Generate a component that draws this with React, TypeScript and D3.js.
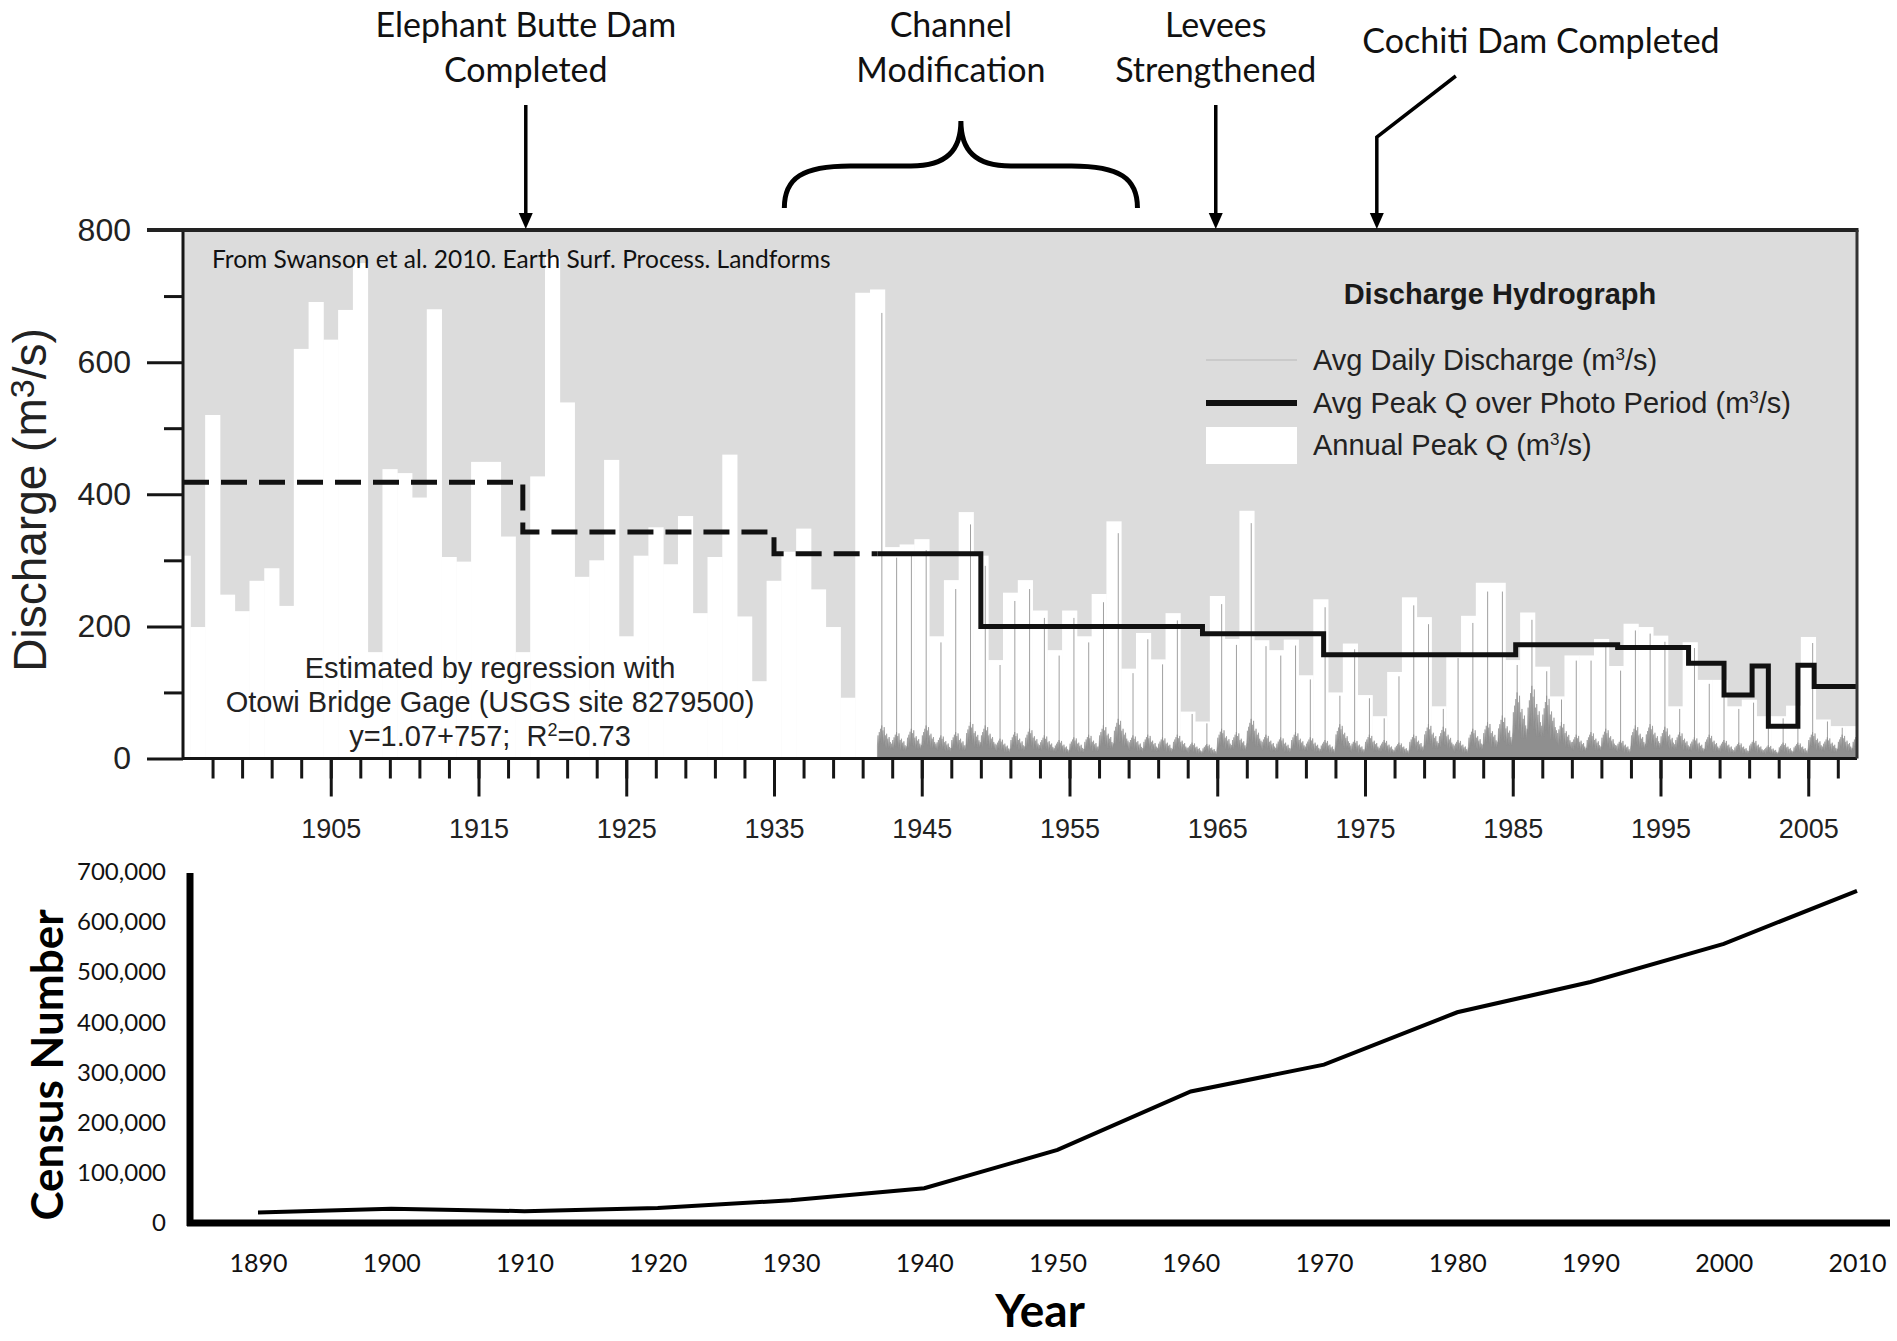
import React, { useEffect, useRef } from 'react';
import * as d3 from 'd3';

// ---- Discharge hydrograph data (m3/s) ----
// annual peak Q, one value per year starting 1895
const peakFirstYear = 1895;
const annualPeakQ = [
  307, 199, 520, 248, 223, 269, 288, 231, 620, 691, // 1895-1904
  634, 679, 750, 161, 438, 432, 395, 680, 305, 298, // 1905-1914
  449, 449, 336, 161, 427, 760, 539, 275, 300, 452, // 1915-1924
  185, 307, 350, 294, 367, 220, 305, 460, 215, 117, // 1925-1934
  269, 313, 348, 256, 199, 92, 705, 710, 320, 324,  // 1935-1944
  332, 185, 270, 373, 307, 149, 251, 270, 224, 164, // 1945-1954
  224, 185, 249, 359, 136, 190, 150, 220, 71, 56,   // 1955-1964
  246, 181, 375, 179, 164, 180, 126, 241, 100, 174, // 1965-1974
  96, 64, 131, 244, 214, 79, 160, 216, 266, 266,    // 1975-1984
  149, 221, 139, 94, 156, 156, 181, 140, 204, 199,  // 1985-1994
  186, 79, 176, 119, 119, 79, 89, 64, 64, 80,       // 1995-2004
  184, 59, 49, 49,                                   // 2005-2008
];

// avg daily discharge: typical height of the runoff band each year, gage record from 1942
const dailyFirstYear = 1942;
const dailyBandQ = [
  50, 40, 45, 50, 35, 40, 55, 50,
  30, 40, 45, 35, 28, 32, 36, 50, 60, 35,
  36, 32, 36, 24, 22, 45, 40, 60, 36, 32,
  40, 32, 28, 52, 28, 36, 28, 24, 36, 52,
  48, 28, 45, 55, 65, 100, 110, 95, 55, 36,
  40, 45, 28, 50, 52, 48, 40, 32, 36, 28,
  24, 28, 20, 24, 24, 40, 32, 36, 36,
];
// jagged within-year outline of daily flows, as fractions of the band height
const dailyShape = [
  0.4, 0.7, 0.35, 0.8, 0.5, 0.9, 0.45, 1, 0.6, 0.85, 0.4, 0.95,
  0.5, 0.7, 0.3, 0.75, 0.45, 0.6, 0.3, 0.65, 0.35, 0.5, 0.3, 0.45,
];

// avg peak Q over each photo period
const photoPeriodStart = [1895, 1918, 1935, 1949, 1964, 1972.2, 1985.2, 1992.1, 1996.9, 1999.3, 2001.2, 2002.3, 2004.3, 2005.4];
const photoPeriodQ = [418, 343, 310, 200, 189, 157, 172, 168, 144, 96, 140, 49, 141, 109];
const recordEnd = 2008.3;

const events = [
  { label: ['Elephant Butte Dam', 'Completed'], year: 1918.2 },
  { label: ['Levees', 'Strengthened'], year: 1964.9 },
];
const cochiti = { label: 'Cochiti Dam Completed', year: 1975.8 };
const channelMod = { label: ['Channel', 'Modification'], from: 1935.7, to: 1959.6 };

// ---- Census data ----
const censusYears = [1890, 1900, 1910, 1920, 1930, 1940, 1950, 1960, 1970, 1980, 1990, 2000, 2010];
const censusPop = [20913, 28630, 23606, 29855, 45430, 69391, 145673, 262199, 315774, 420262, 480577, 556678, 662564];

const W = 1897;
const H = 1341;
const ARIAL = '"Liberation Sans", Arial, sans-serif';
const CALIBRI = 'Lato, "Open Sans", sans-serif';

type Sel = d3.Selection<any, any, any, any>;

// text with raised parts: [text, isSuper]
function richText(t: Sel, parts: [string, boolean][], supSize: number, shift: number) {
  parts.forEach(([s, sup], i) => {
    const ts = t.append('tspan').text(s);
    if (sup) ts.attr('dy', -shift).attr('font-size', supSize);
    else if (i > 0 && parts[i - 1][1]) ts.attr('dy', shift);
  });
}

function drawHydrograph(svg: Sel) {
  const plot = { left: 183, right: 1857, top: 230, bottom: 758.5 };
  const x = d3.scaleLinear().domain([peakFirstYear, recordEnd]).range([plot.left, plot.right]);
  const y = d3.scaleLinear().domain([0, 800]).range([plot.bottom, plot.top]);
  const yearW = x(1) - x(0);

  svg.append('defs').append('clipPath').attr('id', 'plotClip')
    .append('rect')
    .attr('x', plot.left).attr('y', plot.top)
    .attr('width', plot.right - plot.left).attr('height', plot.bottom - plot.top);

  svg.append('rect')
    .attr('x', plot.left).attr('y', plot.top)
    .attr('width', plot.right - plot.left).attr('height', plot.bottom - plot.top)
    .attr('fill', '#dcdcdc');

  const g = svg.append('g').attr('clip-path', 'url(#plotClip)');

  // annual peak bars
  g.selectAll('rect.peak')
    .data(annualPeakQ)
    .join('rect')
    .attr('class', 'peak')
    .attr('x', (d, i) => x(peakFirstYear + i - 0.5))
    .attr('width', yearW + 0.4)
    .attr('y', d => y(d))
    .attr('height', d => y(0) - y(d))
    .attr('fill', '#ffffff');

  // daily spikes up toward the peak of each year
  g.selectAll('line.spike')
    .data(dailyBandQ)
    .join('line')
    .attr('class', 'spike')
    .attr('x1', (d, i) => x(dailyFirstYear + i + 0.3))
    .attr('x2', (d, i) => x(dailyFirstYear + i + 0.3))
    .attr('y1', y(0))
    .attr('y2', (d, i) => y(annualPeakQ[dailyFirstYear - peakFirstYear + i] * 0.95))
    .attr('stroke', '#a0a0a0')
    .attr('stroke-width', 1);

  // avg daily discharge band
  const n = dailyShape.length;
  const dailyPts = dailyBandQ.flatMap((q, i) =>
    dailyShape.map((k, j) => [dailyFirstYear + i + j / n, q * k] as [number, number])
  );
  dailyPts.push([dailyFirstYear + dailyBandQ.length, dailyBandQ[dailyBandQ.length - 1] * dailyShape[0]]);
  g.append('path')
    .datum(dailyPts)
    .attr('fill', '#8f8f8f')
    .attr('stroke', '#8f8f8f')
    .attr('stroke-width', 0.6)
    .attr('d', d3.area<[number, number]>().x(p => x(p[0])).y0(y(0)).y1(p => y(p[1])));

  // avg peak Q over photo period (estimated part dashed)
  const steps = photoPeriodStart.map((s, i) => [s, photoPeriodQ[i]] as [number, number]);
  const before = steps.filter(p => p[0] < dailyFirstYear);
  const valueAtGage = before[before.length - 1][1];
  const dashedPts = [...before, [dailyFirstYear, valueAtGage] as [number, number]];
  const solidPts = [
    [dailyFirstYear, valueAtGage] as [number, number],
    ...steps.filter(p => p[0] >= dailyFirstYear),
    [recordEnd, photoPeriodQ[photoPeriodQ.length - 1]] as [number, number],
  ];
  const stepLine = d3.line<[number, number]>().x(p => x(p[0])).y(p => y(p[1])).curve(d3.curveStepAfter);
  g.append('path').datum(dashedPts)
    .attr('fill', 'none').attr('stroke', '#111').attr('stroke-width', 5)
    .attr('stroke-dasharray', '26,12')
    .attr('d', stepLine);
  g.append('path').datum(solidPts)
    .attr('fill', 'none').attr('stroke', '#111').attr('stroke-width', 5)
    .attr('d', stepLine);

  // source note
  svg.append('text')
    .attr('x', 212).attr('y', 268)
    .attr('font-family', CALIBRI).attr('font-size', 24.5).attr('fill', '#111')
    .text('From Swanson et al. 2010. Earth Surf. Process. Landforms');

  // regression note
  const reg = svg.append('g').attr('font-family', ARIAL).attr('font-size', 29).attr('fill', '#222')
    .attr('text-anchor', 'middle');
  reg.append('text').attr('x', 490).attr('y', 678).text('Estimated by regression with');
  reg.append('text').attr('x', 490).attr('y', 712).text('Otowi Bridge Gage (USGS site 8279500)');
  richText(reg.append('text').attr('x', 490).attr('y', 746),
    [['y=1.07+757;\u00a0\u00a0R', false], ['2', true], ['=0.73', false]], 18, 10);

  // legend
  const lg = svg.append('g').attr('font-family', ARIAL).attr('fill', '#222');
  lg.append('text').attr('x', 1500).attr('y', 304).attr('text-anchor', 'middle')
    .attr('font-size', 29).attr('font-weight', 'bold').attr('fill', '#1a1a1a')
    .text('Discharge Hydrograph');
  lg.append('line').attr('x1', 1206).attr('x2', 1297).attr('y1', 360).attr('y2', 360)
    .attr('stroke', '#c4c4c4').attr('stroke-width', 1.5);
  lg.append('line').attr('x1', 1206).attr('x2', 1297).attr('y1', 403).attr('y2', 403)
    .attr('stroke', '#111').attr('stroke-width', 6);
  lg.append('rect').attr('x', 1206).attr('y', 427).attr('width', 91).attr('height', 37).attr('fill', '#fff');
  const items = ['Avg Daily Discharge (m', 'Avg Peak Q over Photo Period (m', 'Annual Peak Q (m'];
  items.forEach((s, i) => {
    richText(lg.append('text').attr('x', 1313).attr('y', 370 + i * 42.5).attr('font-size', 29),
      [[s, false], ['3', true], ['/s)', false]], 17, 10);
  });

  // axes
  const yMajor = svg.append('g').attr('transform', `translate(${plot.left},0)`)
    .call(d3.axisLeft(y).tickValues([0, 200, 400, 600, 800]).tickSize(36).tickPadding(16));
  const yMinor = svg.append('g').attr('transform', `translate(${plot.left},0)`)
    .call(d3.axisLeft(y).tickValues([100, 300, 500, 700]).tickSize(19).tickFormat(() => ''));
  const xMinor = svg.append('g').attr('transform', `translate(0,${plot.bottom})`)
    .call(d3.axisBottom(x).tickValues(d3.range(1897, 2008, 2)).tickSize(20).tickFormat(() => ''));
  const xMajor = svg.append('g').attr('transform', `translate(0,${plot.bottom})`)
    .call(d3.axisBottom(x).tickValues(d3.range(1905, 2006, 10)).tickSize(38).tickPadding(22)
      .tickFormat(d3.format('d')));
  [yMajor, yMinor, xMinor, xMajor].forEach(a => {
    a.select('.domain').remove();
    a.selectAll('line').attr('stroke', '#151515').attr('stroke-width', 3);
    a.selectAll('text').attr('font-family', ARIAL).attr('fill', '#222');
  });
  yMajor.selectAll('text').attr('font-size', 32);
  xMajor.selectAll('text').attr('font-size', 27);

  // frame
  svg.append('line').attr('x1', plot.left).attr('x2', plot.right).attr('y1', plot.bottom).attr('y2', plot.bottom)
    .attr('stroke', '#151515').attr('stroke-width', 3);
  svg.append('line').attr('x1', plot.left).attr('x2', plot.left).attr('y1', plot.top).attr('y2', plot.bottom)
    .attr('stroke', '#151515').attr('stroke-width', 3);
  svg.append('line').attr('x1', plot.left - 36).attr('x2', plot.right + 1.5).attr('y1', plot.top).attr('y2', plot.top)
    .attr('stroke', '#222').attr('stroke-width', 4);
  svg.append('line').attr('x1', plot.right).attr('x2', plot.right).attr('y1', plot.top).attr('y2', plot.bottom)
    .attr('stroke', '#333').attr('stroke-width', 3);

  // y title
  richText(svg.append('text')
    .attr('transform', 'translate(46,500) rotate(-90)')
    .attr('text-anchor', 'middle')
    .attr('font-family', ARIAL).attr('font-size', 46).attr('fill', '#222'),
    [['Discharge (m', false], ['3', true], ['/s)', false]], 34, 12);

  // ---- annotations above the plot ----
  const ann = svg.append('g').attr('font-family', CALIBRI).attr('font-size', 34).attr('fill', '#111')
    .attr('text-anchor', 'middle');
  const arrowHead = (cx: number) =>
    ann.append('path').attr('d', `M${cx - 7},${plot.top - 17}L${cx + 7},${plot.top - 17}L${cx},${plot.top - 1}Z`)
      .attr('fill', '#000');

  events.forEach(ev => {
    const cx = x(ev.year);
    ev.label.forEach((s, i) => ann.append('text').attr('x', cx).attr('y', 37 + i * 45).text(s));
    ann.append('line').attr('x1', cx).attr('x2', cx).attr('y1', 105).attr('y2', plot.top - 14)
      .attr('stroke', '#000').attr('stroke-width', 3.5);
    arrowHead(cx);
  });

  // Cochiti Dam with bent leader
  const cc = x(cochiti.year);
  ann.append('text').attr('x', 1541).attr('y', 53).text(cochiti.label);
  ann.append('path').attr('d', `M${cc + 79},76L${cc},137L${cc},${plot.top - 14}`)
    .attr('fill', 'none').attr('stroke', '#000').attr('stroke-width', 3.5);
  arrowHead(cc);

  // channel modification brace
  const b0 = x(channelMod.from);
  const b1 = x(channelMod.to);
  const bm = (b0 + b1) / 2;
  channelMod.label.forEach((s, i) => ann.append('text').attr('x', bm - 10).attr('y', 37 + i * 45).text(s));
  ann.append('path')
    .attr('d', `M${b0},208 C${b0},178 ${b0 + 18},166 ${b0 + 66},166 L${bm - 50},166 C${bm - 14},166 ${bm},150 ${bm},121 ` +
      `C${bm},150 ${bm + 14},166 ${bm + 50},166 L${b1 - 66},166 C${b1 - 18},166 ${b1},178 ${b1},208`)
    .attr('fill', 'none').attr('stroke', '#000').attr('stroke-width', 5);
}

function drawCensus(svg: Sel) {
  const x = d3.scaleLinear().domain([1890, 2010]).range([258, 1857]);
  const y = d3.scaleLinear().domain([0, 700000]).range([1223, 872]);

  const yAx = svg.append('g').attr('transform', 'translate(190,0)')
    .call(d3.axisLeft(y).tickValues(d3.range(0, 700001, 100000)).tickSize(0).tickPadding(24)
      .tickFormat(d3.format(',')));
  const xAx = svg.append('g').attr('transform', 'translate(0,1223)')
    .call(d3.axisBottom(x).tickValues(censusYears).tickSize(0).tickPadding(31).tickFormat(d3.format('d')));
  [yAx, xAx].forEach(a => {
    a.select('.domain').remove();
    a.selectAll('text').attr('font-family', CALIBRI).attr('fill', '#111');
  });
  yAx.selectAll('text').attr('font-size', 24);
  xAx.selectAll('text').attr('font-size', 25);

  svg.append('line').attr('x1', 190).attr('x2', 190).attr('y1', 873).attr('y2', 1226)
    .attr('stroke', '#000').attr('stroke-width', 7);
  svg.append('line').attr('x1', 187).attr('x2', 1890).attr('y1', 1223).attr('y2', 1223)
    .attr('stroke', '#000').attr('stroke-width', 7);

  svg.append('path')
    .datum(censusYears.map((yr, i) => [yr, censusPop[i]] as [number, number]))
    .attr('fill', 'none').attr('stroke', '#000').attr('stroke-width', 4)
    .attr('d', d3.line<[number, number]>().x(p => x(p[0])).y(p => y(p[1])));

  svg.append('text')
    .attr('transform', 'translate(63,1065) rotate(-90)')
    .attr('text-anchor', 'middle')
    .attr('font-family', CALIBRI).attr('font-weight', 'bold').attr('font-size', 44).attr('fill', '#000')
    .text('Census Number');
  svg.append('text')
    .attr('x', 1040).attr('y', 1327)
    .attr('text-anchor', 'middle')
    .attr('font-family', CALIBRI).attr('font-weight', 'bold').attr('font-size', 46).attr('fill', '#000')
    .text('Year');
}

export default function App() {
  const svgRef = useRef<SVGSVGElement>(null);

  useEffect(() => {
    if (!svgRef.current) return;
    const svg = d3.select(svgRef.current);
    svg.selectAll('*').remove();
    drawHydrograph(svg);
    drawCensus(svg);
  }, []);

  return (
    <div style={{ position: 'absolute', left: 0, top: 0 }}>
      <svg ref={svgRef} width={W} height={H} style={{ display: 'block', background: '#fff' }} />
    </div>
  );
}
